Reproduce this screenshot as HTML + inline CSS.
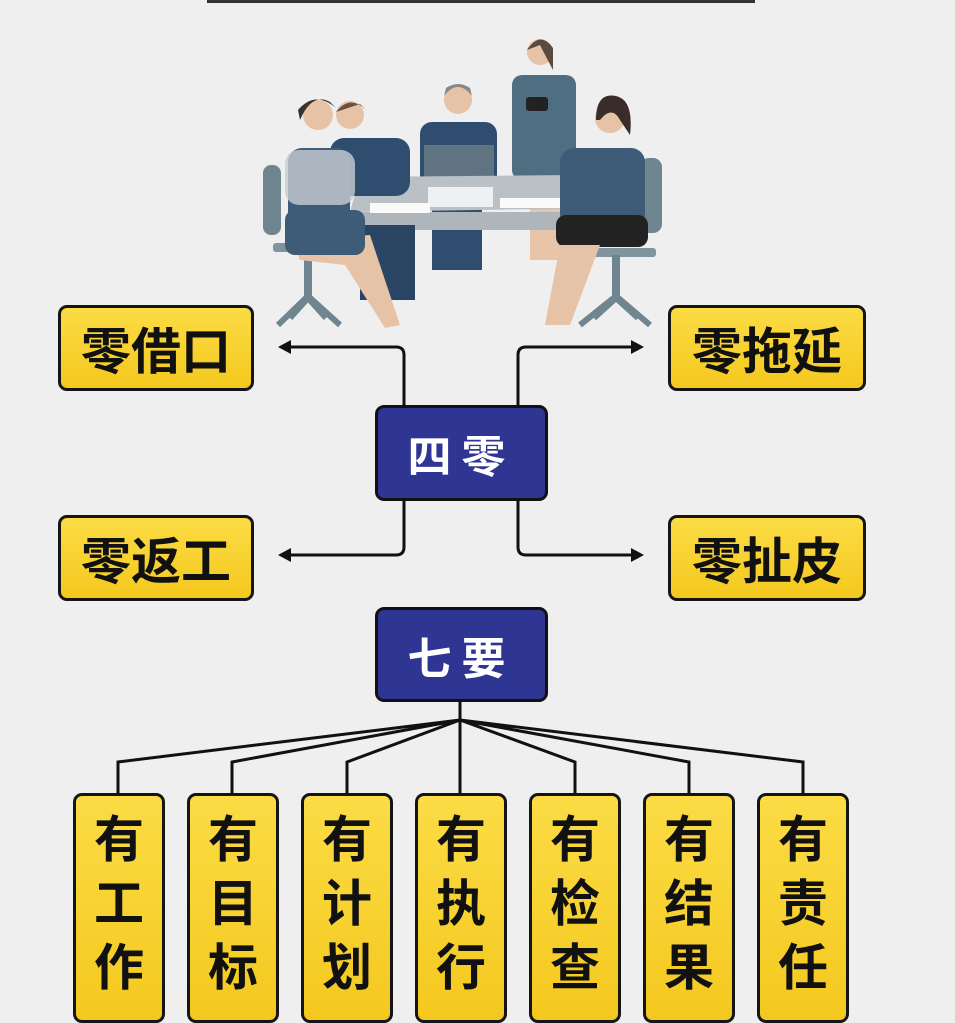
<!DOCTYPE html>
<html><head><meta charset="utf-8"><style>
body{margin:0;width:955px;height:1004px;overflow:hidden;background:#efeff0;position:relative;font-family:"Liberation Sans","Noto Sans CJK SC",sans-serif;}
.y{position:absolute;background:linear-gradient(#fbdc45,#f4c81e);border:3px solid #151515;border-radius:9px;box-sizing:border-box;color:#111;font-weight:bold;display:flex;align-items:center;justify-content:center;}
.h{font-size:50px;letter-spacing:0px;}
.b{position:absolute;background:#2e3592;border:3px solid #111;border-radius:9px;box-sizing:border-box;color:#fff;font-weight:bold;font-size:44px;display:flex;align-items:center;justify-content:center;letter-spacing:10px;}
.v{flex-direction:column;justify-content:flex-start;padding-top:12px;font-size:50px;line-height:64px;}
svg{position:absolute;left:0;top:0}
</style></head><body>
<svg width="955" height="1004">
<rect x="207" y="0" width="548" height="3" fill="#333"/>
<g>
<rect x="263" y="165" width="18" height="70" rx="8" fill="#6f8690"/>
<rect x="273" y="243" width="75" height="9" rx="3" fill="#7f949c"/>
<rect x="304" y="250" width="8" height="50" fill="#6f8690"/>
<path d="M278 325 L308 296 L340 325 M290 318 L308 298 L326 318" stroke="#6f8690" stroke-width="6" fill="none"/>
<rect x="640" y="158" width="22" height="75" rx="9" fill="#6f8690"/>
<rect x="578" y="248" width="78" height="9" rx="3" fill="#7f949c"/>
<rect x="612" y="255" width="8" height="45" fill="#6f8690"/>
<path d="M580 325 L616 296 L650 325 M594 318 L616 298 L638 318" stroke="#6f8690" stroke-width="6" fill="none"/>
<rect x="512" y="75" width="64" height="105" rx="10" fill="#4e6f82"/>
<rect x="530" y="180" width="30" height="80" fill="#e8c4a8"/>
<circle cx="540" cy="52" r="13" fill="#e6c3a6"/>
<path d="M527 50 Q540 30 553 48 L553 70 Q545 55 540 45 Z" fill="#5a4a40"/>
<rect x="526" y="97" width="22" height="14" rx="3" fill="#222"/>
<rect x="420" y="122" width="77" height="70" rx="12" fill="#2f4d6e"/>
<rect x="432" y="190" width="50" height="80" fill="#2f4d6e"/>
<circle cx="458" cy="100" r="14" fill="#e6c3a6"/>
<path d="M444 96 Q458 78 472 96 L470 88 Q458 80 446 88Z" fill="#888"/>
<rect x="424" y="145" width="70" height="40" fill="#5f7480"/>
<path d="M360 177 L570 175 L605 208 L350 212 Z" fill="#b9c0c6"/>
<rect x="350" y="212" width="255" height="18" fill="#aeb5bb"/>
<rect x="428" y="187" width="65" height="20" fill="#eef0f2"/>
<rect x="370" y="203" width="60" height="10" fill="#fafafa"/>
<rect x="500" y="198" width="60" height="10" fill="#fafafa"/>
<rect x="330" y="138" width="80" height="58" rx="14" fill="#2f4d6e"/>
<rect x="360" y="225" width="55" height="75" fill="#2a4563"/>
<circle cx="350" cy="115" r="14" fill="#e6c3a6"/>
<path d="M336 112 Q350 94 366 110 L360 104Z" fill="#6b5040"/>
<rect x="288" y="148" width="62" height="100" rx="14" fill="#3e5c77"/>
<rect x="285" y="150" width="70" height="55" rx="14" fill="#c7cdd2" opacity=".8"/>
<path d="M292 240 L370 235 L400 325 L385 328 L345 265 L300 260Z" fill="#e6c3a6"/>
<rect x="285" y="210" width="80" height="45" rx="10" fill="#3e5c77"/>
<circle cx="318" cy="115" r="15" fill="#e6c3a6"/>
<path d="M298 110 Q315 90 336 108 L330 102 Q312 92 300 120Z" fill="#3a302c"/>
<rect x="560" y="148" width="85" height="80" rx="14" fill="#3e5c77"/>
<rect x="556" y="215" width="92" height="32" rx="10" fill="#222"/>
<path d="M560 245 L600 245 L570 325 L545 325Z" fill="#e6c3a6"/>
<circle cx="610" cy="118" r="15" fill="#e6c3a6"/>
<path d="M596 120 Q596 92 616 96 Q634 100 630 135 L620 120 Q612 105 600 120Z" fill="#3a2c28"/>
</g>
<g stroke="#111" stroke-width="3" fill="none">
<path d="M404 405 V355 Q404 347 396 347 H286"/>
<path d="M518 405 V355 Q518 347 526 347 H636"/>
<path d="M404 500 V547 Q404 555 396 555 H286"/>
<path d="M518 500 V547 Q518 555 526 555 H636"/>
<path d="M460 700 V720"/>
<path d="M460 720 L118 762 V793 M460 720 L232 762 V793 M460 720 L347 762 V793 M460 720 V793 M460 720 L575 762 V793 M460 720 L689 762 V793 M460 720 L803 762 V793"/>
</g>
<g fill="#111">
<path d="M278 347 L291 340 L291 354Z"/>
<path d="M644 347 L631 340 L631 354Z"/>
<path d="M278 555 L291 548 L291 562Z"/>
<path d="M644 555 L631 548 L631 562Z"/>
</g>
</svg>
<div class="y h" style="left:58px;top:305px;width:196px;height:86px">零借口</div>
<div class="y h" style="left:668px;top:305px;width:198px;height:86px">零拖延</div>
<div class="y h" style="left:58px;top:515px;width:196px;height:86px">零返工</div>
<div class="y h" style="left:668px;top:515px;width:198px;height:86px">零扯皮</div>
<div class="b" style="left:375px;top:405px;width:173px;height:96px">四零</div>
<div class="b" style="left:375px;top:607px;width:173px;height:95px">七要</div>
<div class="y v" style="left:73px;top:793px;width:92px;height:230px"><span>有</span><span>工</span><span>作</span></div>
<div class="y v" style="left:187px;top:793px;width:92px;height:230px"><span>有</span><span>目</span><span>标</span></div>
<div class="y v" style="left:301px;top:793px;width:92px;height:230px"><span>有</span><span>计</span><span>划</span></div>
<div class="y v" style="left:415px;top:793px;width:92px;height:230px"><span>有</span><span>执</span><span>行</span></div>
<div class="y v" style="left:529px;top:793px;width:92px;height:230px"><span>有</span><span>检</span><span>查</span></div>
<div class="y v" style="left:643px;top:793px;width:92px;height:230px"><span>有</span><span>结</span><span>果</span></div>
<div class="y v" style="left:757px;top:793px;width:92px;height:230px"><span>有</span><span>责</span><span>任</span></div>
</body></html>
